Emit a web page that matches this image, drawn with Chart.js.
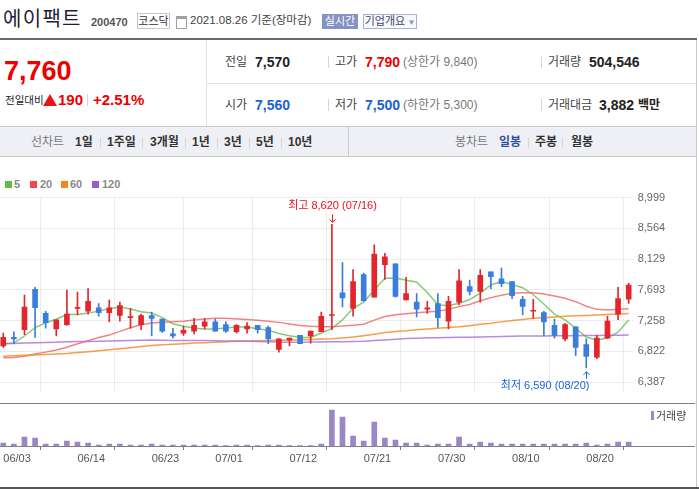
<!DOCTYPE html>
<html><head><meta charset="utf-8">
<script src="https://cdn.jsdelivr.net/npm/chart.js@4.4.1/dist/chart.umd.min.js"></script>
<style>
html,body{margin:0;padding:0;background:#fff;}
body{width:699px;height:489px;position:relative;overflow:hidden;font-family:"Liberation Sans","Noto Sans CJK KR",sans-serif;color:#222;}
.a{position:absolute;white-space:nowrap;}
.ln{position:absolute;}
.sep{position:absolute;width:1px;background:#d5d5d5;}
.lbl{font-size:12px;line-height:16px;color:#444;}
.val{font-size:14px;line-height:16px;font-weight:bold;color:#222;}
.tb{font-size:12px;line-height:16px;font-weight:bold;color:#333;}
.lg{font-size:11px;line-height:13px;font-weight:bold;color:#8a8a8a;}
.sq{position:absolute;width:7px;height:7px;top:181px;}
</style></head><body>

<!-- header -->
<div class="a" style="left:3px;top:7px;font-size:20px;line-height:24px;letter-spacing:1.3px;color:#1d1d35;">에이팩트</div>
<div class="a" style="left:91px;top:15px;font-size:11px;line-height:14px;font-weight:bold;color:#555;">200470</div>
<div class="a" style="left:137px;top:13px;width:31px;height:14px;border:1px solid #c8c8c8;font-size:11px;line-height:14px;text-align:center;color:#333;">코스닥</div>
<div class="a" style="left:176px;top:16px;width:9px;height:9px;border:1px solid #a0a0a0;border-top:3px solid #a0a0a0;"></div>
<div class="a" style="left:190px;top:13px;font-size:11.5px;line-height:15px;color:#444;">2021.08.26 기준(장마감)</div>
<div class="a" style="left:322px;top:14px;width:36px;height:15px;background:#8593c2;color:#fff;font-size:11px;line-height:15px;text-align:center;">실시간</div>
<div class="a" style="left:363px;top:14px;width:52px;height:13px;border:1px solid #a5b1d6;background:#f7f8fc;color:#3d4670;font-size:11px;line-height:13px;text-align:center;">기업개요<span style="font-size:8px;color:#8a94b8;"> ▼</span></div>
<div class="ln" style="left:0;top:38px;width:697px;height:2px;background:#666a75;"></div>

<!-- price box -->
<div class="a" style="left:4px;top:56px;font-size:27px;line-height:30px;font-weight:bold;color:#ee0000;">7,760</div>
<div class="a" style="left:5px;top:93px;font-size:10.5px;line-height:14px;color:#222;">전일대비</div>
<div class="a" style="left:43px;top:94px;width:0;height:0;border-left:7px solid transparent;border-right:7px solid transparent;border-bottom:12px solid #ee1111;"></div>
<div class="a" style="left:58px;top:91px;font-size:15px;line-height:18px;font-weight:bold;color:#ee0000;">190</div>
<div class="sep" style="left:87px;top:94px;height:12px;"></div>
<div class="a" style="left:93px;top:91px;font-size:15px;line-height:18px;font-weight:bold;color:#ee0000;">+2.51%</div>
<div class="ln" style="left:206px;top:40px;width:1px;height:86px;background:#e0e0e0;"></div>
<div class="ln" style="left:207px;top:83px;width:490px;height:1px;background:#e6e6e6;"></div>

<!-- info rows -->
<div class="a lbl" style="left:225px;top:54px;">전일</div>
<div class="a val" style="left:255px;top:54px;">7,570</div>
<div class="sep" style="left:328px;top:56px;height:12px;"></div>
<div class="a lbl" style="left:335px;top:54px;">고가</div>
<div class="a val" style="left:365px;top:54px;color:#ee0000;">7,790</div>
<div class="a lbl" style="left:403px;top:54px;color:#777;">(상한가 9,840)</div>
<div class="sep" style="left:541px;top:56px;height:12px;"></div>
<div class="a lbl" style="left:548px;top:54px;">거래량</div>
<div class="a val" style="left:589px;top:54px;">504,546</div>

<div class="a lbl" style="left:225px;top:97px;">시가</div>
<div class="a val" style="left:255px;top:97px;color:#1a63cf;">7,560</div>
<div class="sep" style="left:328px;top:99px;height:12px;"></div>
<div class="a lbl" style="left:335px;top:97px;">저가</div>
<div class="a val" style="left:365px;top:97px;color:#1a63cf;">7,500</div>
<div class="a lbl" style="left:403px;top:97px;color:#777;">(하한가 5,300)</div>
<div class="sep" style="left:541px;top:99px;height:12px;"></div>
<div class="a lbl" style="left:548px;top:97px;">거래대금</div>
<div class="a val" style="left:599px;top:97px;">3,882</div>
<div class="a lbl" style="left:638px;top:97px;font-weight:bold;color:#222;">백만</div>

<!-- toolbar -->
<div class="ln" style="left:0;top:126px;width:697px;height:31px;background:#eff0f5;border-top:1px solid #c9c9c9;border-bottom:1px solid #c9c9c9;box-sizing:border-box;"></div>
<div class="ln" style="left:348px;top:126px;width:1px;height:31px;background:#c9c9c9;"></div>
<div class="a tb" style="left:31px;top:134px;font-weight:normal;color:#777;">선차트</div>
<div class="a tb" style="left:75px;top:134px;">1일</div>
<div class="sep" style="left:100px;top:138px;height:10px;"></div>
<div class="a tb" style="left:107px;top:134px;">1주일</div>
<div class="sep" style="left:142px;top:138px;height:10px;"></div>
<div class="a tb" style="left:150px;top:134px;">3개월</div>
<div class="sep" style="left:185px;top:138px;height:10px;"></div>
<div class="a tb" style="left:192px;top:134px;">1년</div>
<div class="sep" style="left:217px;top:138px;height:10px;"></div>
<div class="a tb" style="left:224px;top:134px;">3년</div>
<div class="sep" style="left:249px;top:138px;height:10px;"></div>
<div class="a tb" style="left:256px;top:134px;">5년</div>
<div class="sep" style="left:281px;top:138px;height:10px;"></div>
<div class="a tb" style="left:288px;top:134px;">10년</div>
<div class="a tb" style="left:455px;top:134px;font-weight:normal;color:#777;">봉차트</div>
<div class="a tb" style="left:499px;top:134px;color:#2f50a6;">일봉</div>
<div class="sep" style="left:528px;top:138px;height:10px;"></div>
<div class="a tb" style="left:535px;top:134px;">주봉</div>
<div class="sep" style="left:562px;top:138px;height:10px;"></div>
<div class="a tb" style="left:571px;top:134px;">월봉</div>

<!-- MA legend -->
<div class="sq" style="left:5px;background:#5cbf3e;"></div><div class="a lg" style="left:14px;top:178px;">5</div>
<div class="sq" style="left:30px;background:#ef4848;"></div><div class="a lg" style="left:40px;top:178px;">20</div>
<div class="sq" style="left:61px;background:#f6841f;"></div><div class="a lg" style="left:70px;top:178px;">60</div>
<div class="sq" style="left:92px;background:#9e5bd1;"></div><div class="a lg" style="left:102px;top:178px;">120</div>

<canvas id="price" width="695" height="217" style="position:absolute;left:0;top:186px;"></canvas>
<div class="ln" style="left:0;top:403px;width:695px;height:1px;background:#808080;"></div>
<canvas id="vol" width="695" height="84" style="position:absolute;left:0;top:403px;"></canvas>
<div class="ln" style="left:0;top:446px;width:695px;height:1px;background:#808080;"></div>
<div class="ln" style="left:651px;top:411px;width:3px;height:9px;background:#9b86c7;"></div>
<div class="a" style="left:656px;top:409px;font-size:11px;line-height:14px;color:#444;">거래량</div>
<div class="ln" style="left:0;top:487px;width:699px;height:2px;background:#555;"></div>
<div class="ln" style="left:696px;top:40px;width:1px;height:447px;background:#c9c9c9;"></div>

<script>
const dates = ['06/03','06/04','06/07','06/08','06/09','06/10','06/11','06/14','06/15','06/16','06/17','06/18','06/21','06/22','06/23','06/24','06/25','06/28','06/29','06/30',
'07/01','07/02','07/05','07/06','07/07','07/08','07/09','07/12','07/13','07/14','07/15','07/16','07/19','07/20','07/21','07/22','07/23','07/26','07/27','07/28','07/29','07/30',
'08/02','08/03','08/04','08/05','08/06','08/09','08/10','08/11','08/12','08/13','08/17','08/18','08/19','08/20','08/23','08/24','08/25','08/26'];

const opens  = [6900,7020,7130,7700,7360,7140,7200,7430,7390,7440,7370,7330,7300,7200,7330,7280,7070,7080,7110,7180,
                7240,7200,7100,7140,7190,7160,6850,6980,7050,7040,7100,7330,7650,7430,7910,7590,8050,8060,7550,7520,
                7420,7500,7250,7520,7740,7670,7950,7850,7810,7560,7390,7370,7190,7000,7170,6920,6740,7010,7350,7560];
const highs  = [7080,7100,7620,7730,7390,7270,7690,7660,7710,7500,7550,7520,7430,7350,7380,7280,7150,7180,7290,7290,
                7280,7240,7200,7230,7190,7180,7000,7010,7050,7110,7380,8620,8080,7980,7930,8330,8210,8060,7870,7640,
                7530,7640,7600,7980,7830,7980,7950,8000,7810,7600,7560,7390,7280,7220,7170,7000,7050,7320,7730,7790];
const lows   = [6880,6930,7060,7020,7150,7040,7190,7340,7350,7320,7240,7250,7150,7130,7040,7090,7010,7050,7070,7140,
                7110,7090,7080,7080,7080,6930,6810,6900,6930,6940,7100,7130,7450,7320,7530,7590,7840,7590,7550,7310,
                7360,7160,7140,7480,7620,7520,7710,7740,7570,7340,7290,7040,7010,6970,6760,6590,6720,7010,7270,7500];
const closes = [7020,7000,7450,7440,7230,7270,7350,7440,7530,7370,7440,7470,7310,7330,7290,7110,7040,7120,7190,7240,
                7110,7110,7190,7180,7130,7000,7000,7010,6930,7110,7320,7340,7580,7810,7540,8200,8160,7600,7640,7420,
                7440,7300,7530,7820,7670,7900,7880,7780,7610,7460,7400,7240,7050,7200,6880,6750,7010,7250,7570,7760];
const volumes = [378000,252000,1134000,1008000,252000,252000,630000,504000,378000,126000,252000,252000,126000,126000,252000,126000,126000,126000,126000,126000,
                 126000,40000,126000,126000,40000,126000,126000,40000,40000,40000,252000,4540000,3650000,1260000,630000,3030000,1010000,756000,378000,378000,
                 126000,252000,252000,1130000,252000,504000,378000,252000,252000,252000,252000,252000,252000,252000,252000,378000,126000,252000,504000,504546];

const ma5   = [6930,6940,7040,7160,7228,7278,7348,7346,7364,7392,7426,7450,7422,7382,7366,7300,7214,7178,7150,7140,
               7140,7154,7168,7166,7144,7122,7075,7045,7020,7020,7082,7148,7268,7432,7520,7692,7856,7862,7830,7805,
               7655,7482,7468,7504,7556,7648,7762,7810,7770,7724,7624,7494,7350,7268,7150,7026,6980,7015,7095,7266];
const ma20  = [6733,6735,6755,6786,6812,6843,6882,6930,6974,7018,7053,7106,7158,7200,7224,7233,7241,7250,7268,7281,
               7290,7290,7281,7272,7263,7250,7233,7210,7190,7178,7171,7171,7180,7193,7206,7265,7316,7340,7355,7370,
               7380,7390,7420,7456,7487,7539,7583,7618,7645,7653,7653,7636,7605,7574,7526,7461,7417,7408,7417,7426];
const ma60  = [6755,6760,6766,6772,6779,6786,6793,6805,6818,6832,6846,6860,6875,6890,6905,6915,6924,6932,6940,6946,
               6952,6958,6965,6970,6974,6977,6980,6983,6987,6991,6996,7002,7012,7025,7045,7065,7090,7105,7115,7130,
               7140,7149,7160,7170,7185,7205,7220,7240,7258,7275,7290,7300,7310,7318,7325,7330,7337,7344,7352,7360];
const ma120 = [6930,6935,6940,6945,6949,6953,6957,6961,6964,6967,6970,6973,6976,6979,6982,6980,6978,6977,6976,6975,
               6974,6971,6968,6965,6962,6959,6956,6953,6953,6954,6955,6957,6959,6962,6966,6975,6985,6995,7003,7009,
               7014,7017,7019,7021,7024,7027,7030,7033,7036,7039,7040,7041,7042,7044,7045,7046,7048,7050,7051,7053];

const priceTicks = [6387,6822,7258,7693,8129,8564,8999];
const dateTicks = ['06/03','06/14','06/23','07/01','07/12','07/21','07/30','08/10','08/20'];

const UP = '#e2262b', DOWN = '#3a7ddc';
const idx = dates.map((d, i) => i);
const candleColor = idx.map(i => closes[i] >= opens[i] ? UP : DOWN);
const tickIdx = dateTicks.map(d => dates.indexOf(d));
const X_MIN = -0.31, X_MAX = 59.38, AXIS_W = 62.3;
const fmt = v => Number(v).toLocaleString('en-US');
const FONT = '"Liberation Sans","Noto Sans CJK KR",sans-serif';

const extremes = {
  id: 'extremes',
  afterDatasetsDraw(chart) {
    const {ctx} = chart; const x = chart.scales.x, y = chart.scales.y;
    let hi = 0, lo = 0;
    highs.forEach((v, i) => { if (v > highs[hi]) hi = i; });
    lows.forEach((v, i) => { if (v < lows[lo]) lo = i; });
    ctx.save();
    ctx.font = '11px ' + FONT;
    ctx.lineWidth = 1;
    const hx = Math.round(x.getPixelForValue(hi)) + 0.5, hy = y.getPixelForValue(highs[hi]);
    ctx.fillStyle = ctx.strokeStyle = '#e8121a';
    ctx.textAlign = 'center'; ctx.textBaseline = 'middle';
    ctx.fillText('최고 ' + fmt(highs[hi]) + ' (' + dates[hi] + ')', hx, hy - 18);
    ctx.beginPath(); ctx.moveTo(hx, hy - 10); ctx.lineTo(hx, hy - 2);
    ctx.moveTo(hx - 3, hy - 5); ctx.lineTo(hx, hy - 2); ctx.lineTo(hx + 3, hy - 5); ctx.stroke();
    const lx = Math.round(x.getPixelForValue(lo)) + 0.5, ly = y.getPixelForValue(lows[lo]);
    ctx.fillStyle = ctx.strokeStyle = '#1a62d6';
    ctx.textAlign = 'right';
    ctx.fillText('최저 ' + fmt(lows[lo]) + ' (' + dates[lo] + ')', lx + 3, ly + 18.5);
    ctx.beginPath(); ctx.moveTo(lx, ly + 4); ctx.lineTo(lx, ly + 11);
    ctx.moveTo(lx - 3, ly + 7); ctx.lineTo(lx, ly + 4); ctx.lineTo(lx + 3, ly + 7); ctx.stroke();
    ctx.restore();
  }
};

function maSet(label, arr, color) {
  return {type: 'line', label, data: idx.map(i => ({x: i, y: arr[i]})), borderColor: color,
          borderWidth: 1.5, pointRadius: 0, tension: 0, order: 3};
}

const xTicksFn = s => { s.ticks = tickIdx.map(v => ({value: v})); };

new Chart(document.getElementById('price'), {
  type: 'bar',
  data: { datasets: [
    maSet('120', ma120, 'rgba(165,110,215,0.8)'),
    maSet('60', ma60, 'rgba(247,140,40,0.85)'),
    maSet('20', ma20, 'rgba(240,100,100,0.8)'),
    maSet('5', ma5, 'rgba(110,195,90,0.85)'),
    {label: 'wick', data: idx.map(i => ({x: i, y: [lows[i], highs[i]]})), backgroundColor: candleColor,
     barThickness: 1, grouped: false, order: 1},
    {label: 'body', data: idx.map(i => ({x: i, y: [opens[i], closes[i]]})), backgroundColor: candleColor,
     barThickness: 5, minBarLength: 1, grouped: false, order: 0}
  ]},
  options: {
    responsive: false, animation: false, events: [],
    layout: {padding: {top: 8.3, left: 0, right: 0, bottom: 0}},
    plugins: {legend: {display: false}, tooltip: {enabled: false}},
    scales: {
      x: {type: 'linear', min: X_MIN, max: X_MAX, offset: false, afterBuildTicks: xTicksFn,
          ticks: {display: false}, grid: {color: '#ececec', drawTicks: false}, border: {display: false}},
      y: {position: 'right', min: 6256, max: 8999,
          afterBuildTicks: s => { s.ticks = priceTicks.map(v => ({value: v})); },
          ticks: {callback: v => fmt(v), color: '#666', font: {size: 11, family: FONT}, padding: 5},
          grid: {color: '#ececec', drawTicks: false}, border: {display: false},
          afterFit: s => { s.width = AXIS_W; }}
    }
  },
  plugins: [extremes]
});

new Chart(document.getElementById('vol'), {
  type: 'bar',
  data: { datasets: [
    {label: '거래량', data: idx.map(i => ({x: i, y: volumes[i]})), backgroundColor: '#9b86c7',
     barThickness: 5, grouped: false}
  ]},
  options: {
    responsive: false, animation: false, events: [],
    layout: {padding: 0},
    plugins: {legend: {display: false}, tooltip: {enabled: false}},
    scales: {
      x: {type: 'linear', min: X_MIN, max: X_MAX, offset: false, afterBuildTicks: xTicksFn,
          ticks: {callback: v => dates[v], align: 'start', color: '#555', font: {size: 11, family: FONT},
                  padding: 2, maxRotation: 0, autoSkip: false},
          grid: {drawOnChartArea: false, drawTicks: true, tickLength: 4, color: '#777'},
          border: {display: false},
          afterFit: s => { s.height = 41; }},
      y: {position: 'right', min: 0, max: 5420000, ticks: {display: false}, grid: {display: false},
          border: {display: false}, afterFit: s => { s.width = AXIS_W; }}
    }
  }
});
</script>
</body></html>
